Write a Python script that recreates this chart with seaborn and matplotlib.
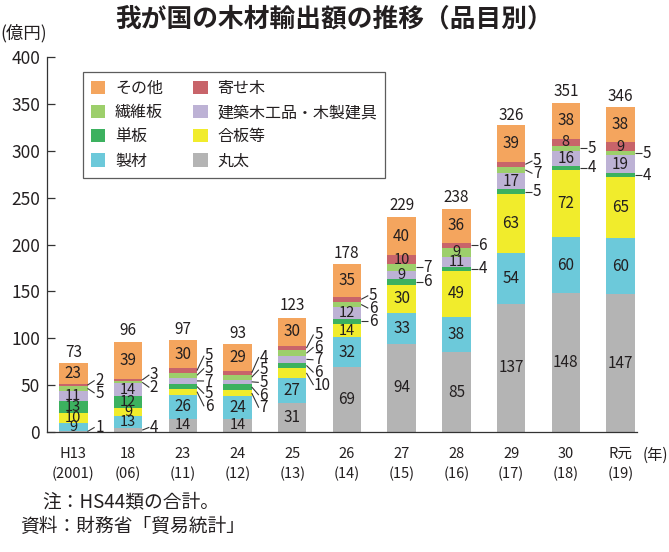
import matplotlib
matplotlib.use("Agg")
import matplotlib.pyplot as plt
import seaborn as sns
import numpy as np
from matplotlib.patches import Patch

sns.set_theme(style="white")
plt.rcParams['font.family'] = ['Noto Sans CJK JP', 'DejaVu Sans']

# ---- data ----
years = ['H13', '18', '23', '24', '25', '26', '27', '28', '29', '30', 'R元']
years_sub = ['(2001)', '(06)', '(11)', '(12)', '(13)', '(14)', '(15)', '(16)', '(17)', '(18)', '(19)']
series_names = ['丸太', '製材', '合板等', '単板', '建築木工品・木製建具', '繊維板', '寄せ木', 'その他']
maruta   = [1, 4, 14, 14, 31, 69, 94, 85, 137, 148, 147]
seizai   = [9, 13, 26, 24, 27, 32, 33, 38, 54, 60, 60]
gohan    = [10, 9, 6, 7, 10, 14, 30, 49, 63, 72, 65]
tanban   = [13, 12, 5, 6, 6, 6, 6, 4, 5, 4, 4]
kenchiku = [11, 14, 7, 5, 7, 12, 9, 11, 17, 16, 19]
sen_i    = [5, 2, 5, 5, 6, 6, 7, 9, 7, 5, 5]
yosegi   = [2, 3, 5, 4, 5, 5, 10, 6, 5, 8, 9]
sonota   = [23, 39, 30, 29, 30, 35, 40, 36, 39, 38, 38]
totals   = [73, 96, 97, 93, 123, 178, 229, 238, 326, 351, 346]
series_values = [maruta, seizai, gohan, tanban, kenchiku, sen_i, yosegi, sonota]
colors = ['#B4B4B4', '#6CC9DA', '#F1EC2C', '#3CB15F', '#BDB2D5', '#9DCF6B', '#C8646A', '#F4A55E']
# labels drawn outside the bar (small segments)
outside_max = 7
outside_extra = {(4, 2)}  # year index 4 (25), series 合板等

TXT = '#231F20'

fig = plt.figure(figsize=(6.69, 5.52), dpi=100)
W, H = 669, 552
ax = fig.add_axes([47 / W, (H - 432) / H, 590 / W, 375 / H])

vals = np.array(series_values, dtype=float)
cum = np.cumsum(vals, axis=0)
bw = 0.52
for k in range(len(series_names) - 1, -1, -1):
    sns.barplot(x=years, y=cum[k], order=years, color=colors[k], width=bw,
                saturation=1, linewidth=0, ax=ax)

ax.set_xlim(-0.48, 10.3)
ax.set_ylim(0, 400)
ax.set_yticks(np.arange(0, 401, 50))
ax.set_yticklabels([str(v) for v in range(0, 401, 50)], fontsize=12.5, color=TXT)
ax.set_xticks(range(len(years)))
ax.set_xticklabels([f'{a}\n{b}' for a, b in zip(years, years_sub)], fontsize=10.5,
                   color=TXT, linespacing=1.45)
ax.tick_params(axis='x', length=0, pad=11)
ax.set_xticks(np.arange(0.5, 10, 1), minor=True)
ax.tick_params(axis='x', which='minor', direction='in', length=6, color='#333333', width=0.9)
ax.tick_params(axis='y', direction='in', length=6, color='#333333', width=0.9, pad=5, left=True)
ax.set_xlabel('')
ax.set_ylabel('')
for s in ['top', 'right']:
    ax.spines[s].set_visible(False)
for s in ['left', 'bottom']:
    ax.spines[s].set_color('#333333')
    ax.spines[s].set_linewidth(0.9)

# ---- value labels ----
spacing = 13.5


def cluster_pos(cl):
    m = np.mean([t[0] for t in cl])
    top = m + (len(cl) - 1) * spacing / 2
    return [top - j * spacing for j in range(len(cl))]


for i in range(len(years)):
    outs = []
    for k in range(len(series_names)):
        v = vals[k, i]
        c = cum[k, i] - v / 2
        if v <= outside_max or (i, k) in outside_extra:
            outs.append((c, int(v)))
        else:
            fs = 10.5 if v < 15 else 11
            ax.text(i, c, f'{int(v)}', ha='center', va='center', fontsize=fs, color=TXT)
    outs.sort(key=lambda t: -t[0])
    clusters = [[t] for t in outs]
    merged = True
    while merged:
        merged = False
        for a in range(len(clusters) - 1):
            if cluster_pos(clusters[a])[-1] - cluster_pos(clusters[a + 1])[0] < spacing:
                clusters[a] = clusters[a] + clusters[a + 1]
                del clusters[a + 1]
                merged = True
                break
    for cl in clusters:
        for t, ly in zip(cl, cluster_pos(cl)):
            ly = max(ly, 5)
            x0 = i + bw / 2
            ax.plot([x0, x0 + 0.13], [t[0], ly], color='#333333', lw=0.8,
                    solid_capstyle='butt', clip_on=False)
            ax.text(x0 + 0.14, ly, f'{t[1]}', ha='left', va='center',
                    fontsize=11, color=TXT)
    ax.text(i, totals[i] + 3, f'{totals[i]}', ha='center', va='bottom', fontsize=11, color=TXT)

# ---- legend ----
leg_order = [7, 5, 3, 1, 6, 4, 2, 0]
handles = [Patch(facecolor=colors[k], edgecolor='none', label=series_names[k]) for k in leg_order]
leg = ax.legend(handles=handles, ncol=2, loc='upper left', bbox_to_anchor=(0.061, 0.96),
                borderaxespad=0, fontsize=11.5, frameon=True, fancybox=False,
                handlelength=0.9, handleheight=0.9, handletextpad=0.6, columnspacing=1.9,
                labelspacing=0.45, borderpad=0.5)
leg.get_frame().set_edgecolor('#333333')
leg.get_frame().set_linewidth(0.9)
for t in leg.get_texts():
    t.set_color(TXT)

# ---- texts ----
fig.text(0.5, 1 - 19 / H, '我が国の木材輸出額の推移（品目別）', ha='center', va='center',
         fontsize=18.5, fontweight='bold', color=TXT)
fig.text(0 / W, 1 - 33 / H, '(億円)', ha='left', va='center', fontsize=12.5, color=TXT)
fig.text(643 / W, 1 - 455 / H, '(年)', ha='left', va='center', fontsize=11, color=TXT)
fig.text(42 / W, 1 - 502 / H, '注：HS44類の合計。', ha='left', va='center', fontsize=13.5, color=TXT)
fig.text(20 / W, 1 - 526 / H, '資料：財務省「貿易統計」', ha='left', va='center', fontsize=13.5, color=TXT)

fig.savefig('out.png', dpi=100)
